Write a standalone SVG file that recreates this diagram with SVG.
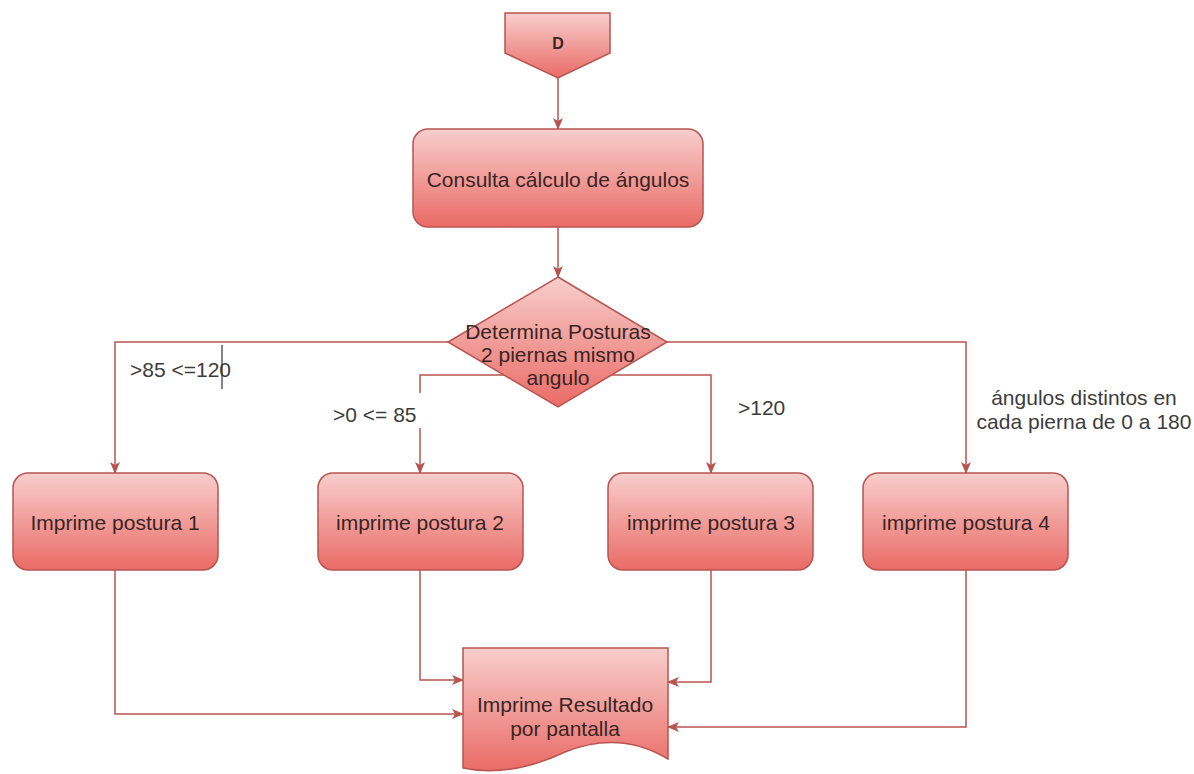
<svg xmlns="http://www.w3.org/2000/svg" width="1194" height="774" viewBox="0 0 1194 774">
  <defs>
    <linearGradient id="redFill" x1="0" y1="0" x2="0" y2="1">
      <stop offset="0" stop-color="#f8cecc"/>
      <stop offset="1" stop-color="#ea6b66"/>
    </linearGradient>
    <marker id="arrow" viewBox="0 0 12 10" refX="11" refY="5" markerWidth="12" markerHeight="10" markerUnits="userSpaceOnUse" orient="auto">
      <path d="M0,0 L12,5 L0,10 L3,5 Z" fill="#b85450"/>
    </marker>
    <style>
      .shape { fill: url(#redFill); stroke: #b85450; stroke-width: 1.5; }
      .edge { fill: none; stroke: #b85450; stroke-width: 1.5; }
      .node-text { font-family: "Liberation Sans", Arial, sans-serif; font-size: 21px; fill: #3a2424; text-anchor: middle; dominant-baseline: central; }
      .edge-label { font-family: "Liberation Sans", Arial, sans-serif; font-size: 21px; fill: #3c3c3c; }
    </style>
  </defs>
  <rect width="1194" height="774" fill="#ffffff"/>

  <!-- connectors -->
  <g id="connectors">
    <path class="edge" d="M558,78 V129" marker-end="url(#arrow)"/>
    <path class="edge" d="M558,227 V277" marker-end="url(#arrow)"/>
    <!-- branches from the decision -->
    <path class="edge" d="M448,342 H115 V473" marker-end="url(#arrow)"/>
    <path class="edge" d="M667,342 H966 V473" marker-end="url(#arrow)"/>
    <path class="edge" d="M558,375 H420 V393"/>
    <path class="edge" d="M420,428 V473" marker-end="url(#arrow)"/>
    <path class="edge" d="M558,375 H711 V473" marker-end="url(#arrow)"/>
    <!-- into the output document -->
    <path class="edge" d="M115,570 V714 H463" marker-end="url(#arrow)"/>
    <path class="edge" d="M420,570 V680 H463" marker-end="url(#arrow)"/>
    <path class="edge" d="M711,570 V682 H668" marker-end="url(#arrow)"/>
    <path class="edge" d="M966,570 V727 H668" marker-end="url(#arrow)"/>
  </g>

  <!-- edge labels -->
  <g id="labels">
    <text class="edge-label" x="130" y="377">&gt;85 &lt;=120</text>
    <line x1="222" y1="345" x2="222" y2="389" stroke="#333333" stroke-width="1.2"/>
    <text class="edge-label" x="333" y="422">&gt;0 &lt;= 85</text>
    <text class="edge-label" x="738" y="415">&gt;120</text>
    <text class="edge-label" x="1084" y="405" text-anchor="middle">ángulos distintos en</text>
    <text class="edge-label" x="1084" y="429" text-anchor="middle">cada pierna de 0 a 180</text>
  </g>

  <!-- off-page connector -->
  <g id="node-d">
    <polygon class="shape" points="505,13 610,13 610,53 558,78 505,53"/>
    <text class="node-text" x="558" y="43" style="font-size:16px;font-weight:bold">D</text>
  </g>

  <g id="node-consulta">
    <rect class="shape" x="413" y="129" width="290" height="98" rx="15"/>
    <text class="node-text" x="558" y="179">Consulta cálculo de ángulos</text>
  </g>

  <g id="node-decision">
    <polygon class="shape" points="558,277 667,342 558,407 448,342"/>
    <text class="node-text" x="558" y="331">Determina Posturas</text>
    <text class="node-text" x="558" y="354">2 piernas mismo</text>
    <text class="node-text" x="558" y="377">angulo</text>
  </g>

  <g id="node-postura1">
    <rect class="shape" x="13" y="473" width="205" height="97" rx="15"/>
    <text class="node-text" x="115" y="522">Imprime postura 1</text>
  </g>

  <g id="node-postura2">
    <rect class="shape" x="318" y="473" width="205" height="97" rx="15"/>
    <text class="node-text" x="420" y="522">imprime postura 2</text>
  </g>

  <g id="node-postura3">
    <rect class="shape" x="608" y="473" width="205" height="97" rx="15"/>
    <text class="node-text" x="711" y="522">imprime postura 3</text>
  </g>

  <g id="node-postura4">
    <rect class="shape" x="863" y="473" width="205" height="97" rx="15"/>
    <text class="node-text" x="966" y="522">imprime postura 4</text>
  </g>

  <g id="node-resultado">
    <path class="shape" d="M463,648 H668 V759 Q620,730 565,752 Q510,778 463,768 Z"/>
    <text class="node-text" x="565" y="704">Imprime Resultado</text>
    <text class="node-text" x="565" y="728">por pantalla</text>
  </g>
</svg>
